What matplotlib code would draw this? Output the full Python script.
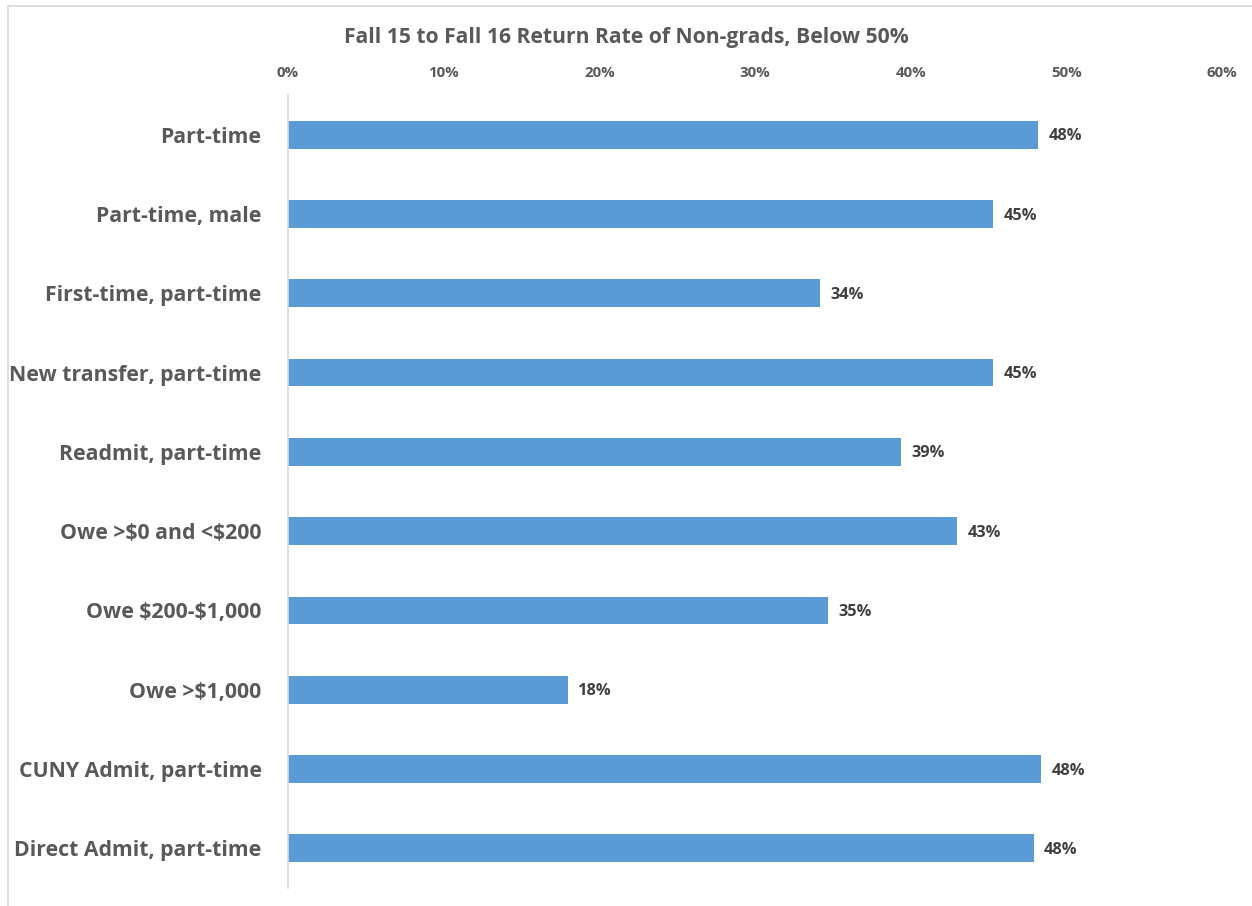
import matplotlib.pyplot as plt
from matplotlib.patches import Rectangle
from matplotlib.ticker import FuncFormatter

categories = ["Part-time",
              "Part-time, male",
              "First-time, part-time",
              "New transfer, part-time",
              "Readmit, part-time",
              "Owe >$0 and <$200",
              "Owe $200-$1,000",
              "Owe >$1,000",
              "CUNY Admit, part-time",
              "Direct Admit, part-time"]
rates = [48.2, 45.3, 34.2, 45.3, 39.4, 43.0, 34.7, 18.0, 48.4, 47.9]
ticks = [0, 10, 20, 30, 40, 50, 60]

plt.rcParams['font.family'] = ['Open Sans', 'DejaVu Sans']
plt.rcParams['text.parse_math'] = False
text_col = "#595959"

fig = plt.figure(figsize=(12.52, 9.06), dpi=100)
ax = fig.add_axes([288 / 1252, 1 - 888 / 906, (1222 - 288) / 1252, (888 - 95) / 906])

# chart frame
fig.patches.append(Rectangle((8 / 1252, -0.1), 1.2, 1 - 6 / 906 + 0.1,
                             transform=fig.transFigure, fill=False,
                             edgecolor="#D9D9D9", linewidth=1.2))

y = range(len(categories))
bars = ax.barh(y, rates, height=0.35, color="#5B9BD5")
ax.set_ylim(len(categories) - 0.5, -0.5)
ax.set_xlim(0, 60)
ax.set_yticks(list(y))
ax.set_yticklabels(categories, fontsize=15.3, fontweight="bold", color=text_col)
ax.set_xticks(ticks)
ax.xaxis.set_major_formatter(FuncFormatter(lambda v, p: "%d%%" % v))
ax.xaxis.tick_top()
for lab in ax.get_xticklabels():
    lab.set_fontsize(10.8)
    lab.set_fontweight("bold")
    lab.set_color(text_col)
ax.tick_params(axis="both", length=0)
ax.tick_params(axis="x", pad=11)
ax.tick_params(axis="y", pad=19)

for s in ["top", "right", "bottom"]:
    ax.spines[s].set_visible(False)
ax.spines["left"].set_color("#D9D9D9")
ax.spines["left"].set_linewidth(1.2)

for b, v in zip(bars, rates):
    ax.text(b.get_width() + 0.65, b.get_y() + b.get_height() / 2 + 0.02, "%d%%" % round(v),
            va="center", ha="left", fontsize=11.8, fontweight="bold", color="#404040")

fig.text(0.5, 1 - 37 / 906, "Fall 15 to Fall 16 Return Rate of Non-grads, Below 50%",
         ha="center", va="center", fontsize=15.2, fontweight="bold", color=text_col)

fig.savefig("out.png", dpi=100)
